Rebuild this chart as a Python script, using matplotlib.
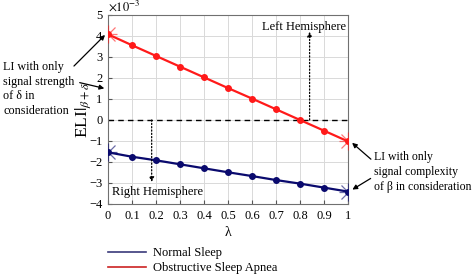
import matplotlib
matplotlib.use("Agg")
import matplotlib.pyplot as plt
from matplotlib.lines import Line2D

lam = [0, 0.1, 0.2, 0.3, 0.4, 0.5, 0.6, 0.7, 0.8, 0.9, 1.0]
osa = [4.08, 3.56, 3.05, 2.54, 2.03, 1.52, 1.02, 0.51, 0.0, -0.51, -1.02]
normal = [-1.54, -1.75, -1.92, -2.11, -2.30, -2.49, -2.67, -2.86, -3.03, -3.22, -3.41]
xticks = [0, 0.1, 0.2, 0.3, 0.4, 0.5, 0.6, 0.7, 0.8, 0.9, 1]
xticklabels = ["0", "0.1", "0.2", "0.3", "0.4", "0.5", "0.6", "0.7", "0.8", "0.9", "1"]
yticks = [-4, -3, -2, -1, 0, 1, 2, 3, 4, 5]

RED = "#ff1a1a"
BLUE = "#0a0a6e"

plt.rcParams["font.family"] = ["Liberation Serif", "DejaVu Serif"]
plt.rcParams["mathtext.fontset"] = "stix"

fig = plt.figure(figsize=(4.77, 2.76), dpi=100)
ax = fig.add_axes([0.2264, 0.2609, 0.5032, 0.6848])

ax.plot(lam, osa, color=RED, lw=1.6, marker="o", ms=4, mfc=RED, mec=RED, zorder=3)
ax.plot(lam, normal, color=BLUE, lw=1.6, marker="o", ms=4, mfc=BLUE, mec=BLUE, zorder=3)
for xs, ys, c in [([lam[0], lam[-1]], [osa[0], osa[-1]], RED), ([lam[0], lam[-1]], [normal[0], normal[-1]], BLUE)]:
    ax.plot(xs, ys, ls="none", marker="+", ms=13, mew=0.9, color=c, alpha=0.6, zorder=4)
    ax.plot(xs, ys, ls="none", marker="x", ms=10, mew=0.9, color=c, alpha=0.6, zorder=4)

ax.axhline(0, color="black", lw=1.0, ls=(0, (4, 3)), zorder=2)

ax.set_xlim(0, 1)
ax.set_ylim(-4, 5)
ax.set_xticks(xticks)
ax.set_xticklabels(xticklabels)
ax.set_yticks(yticks)
ax.grid(True, color="#d9d9d9", lw=0.7)
ax.set_axisbelow(True)
ax.tick_params(direction="in", length=3, labelsize=9, color="#555555", pad=4)
for s in ax.spines.values():
    s.set_color("#707070")
    s.set_linewidth(0.8)

ax.text(0.0, 1.005, r"$\times10^{-3}$", transform=ax.transAxes, fontsize=9, va="bottom", ha="left")
ax.set_xlabel("λ", fontsize=10, labelpad=3)
ax.set_ylabel(r"ELI$|_{\beta+\delta}$", fontsize=12.5, labelpad=-3)

# Hemisphere annotations
ax.annotate("", xy=(0.84, 4.2), xytext=(0.84, 0.0),
            arrowprops=dict(arrowstyle="-|>", ls=":", color="black", lw=0.9, mutation_scale=7, shrinkA=0, shrinkB=0))
ax.text(0.99, 4.45, "Left Hemisphere", fontsize=9, ha="right", va="center")
ax.annotate("", xy=(0.182, -2.95), xytext=(0.182, 0.0),
            arrowprops=dict(arrowstyle="-|>", ls=":", color="black", lw=0.9, mutation_scale=7, shrinkA=0, shrinkB=0))
ax.text(0.015, -3.45, "Right Hemisphere", fontsize=9, ha="left", va="center")

# Left text annotation
fig.text(3 / 477, 1 - 89 / 276, "LI with only\nsignal strength\nof δ in\nconsideration",
         fontsize=8.7, ha="left", va="center", linespacing=1.3)
fig.add_artist(matplotlib.patches.FancyArrowPatch((72 / 477, 1 - 68 / 276), (107 / 477, 1 - 33 / 276),
               transform=fig.transFigure, arrowstyle="-|>", mutation_scale=7, color="black", lw=0.9))
fig.add_artist(matplotlib.patches.FancyArrowPatch((77 / 477, 1 - 82 / 276), (107 / 477, 1 - 89 / 276),
               transform=fig.transFigure, arrowstyle="-|>", mutation_scale=7, color="black", lw=0.9))

# Right text annotation
fig.text(374 / 477, 1 - 172 / 276, "LI with only\nsignal complexity\nof β in consideration",
         fontsize=8.5, ha="left", va="center", linespacing=1.35)
fig.add_artist(matplotlib.patches.FancyArrowPatch((373 / 477, 1 - 161 / 276), (350 / 477, 1 - 141 / 276),
               transform=fig.transFigure, arrowstyle="-|>", mutation_scale=7, color="black", lw=0.9))
fig.add_artist(matplotlib.patches.FancyArrowPatch((373 / 477, 1 - 177 / 276), (350 / 477, 1 - 191 / 276),
               transform=fig.transFigure, arrowstyle="-|>", mutation_scale=7, color="black", lw=0.9))

handles = [Line2D([], [], color="#3a3a7a", lw=1.2), Line2D([], [], color="#cc2222", lw=1.2)]
fig.legend(handles, ["Normal Sleep", "Obstructive Sleep Apnea"], loc="upper left",
           bbox_to_anchor=(108 / 477, 1 - 247 / 276), frameon=False, fontsize=9,
           handlelength=3.0, handletextpad=0.6, labelspacing=0.25, borderpad=0, borderaxespad=0)

fig.savefig("out.png", dpi=100)
